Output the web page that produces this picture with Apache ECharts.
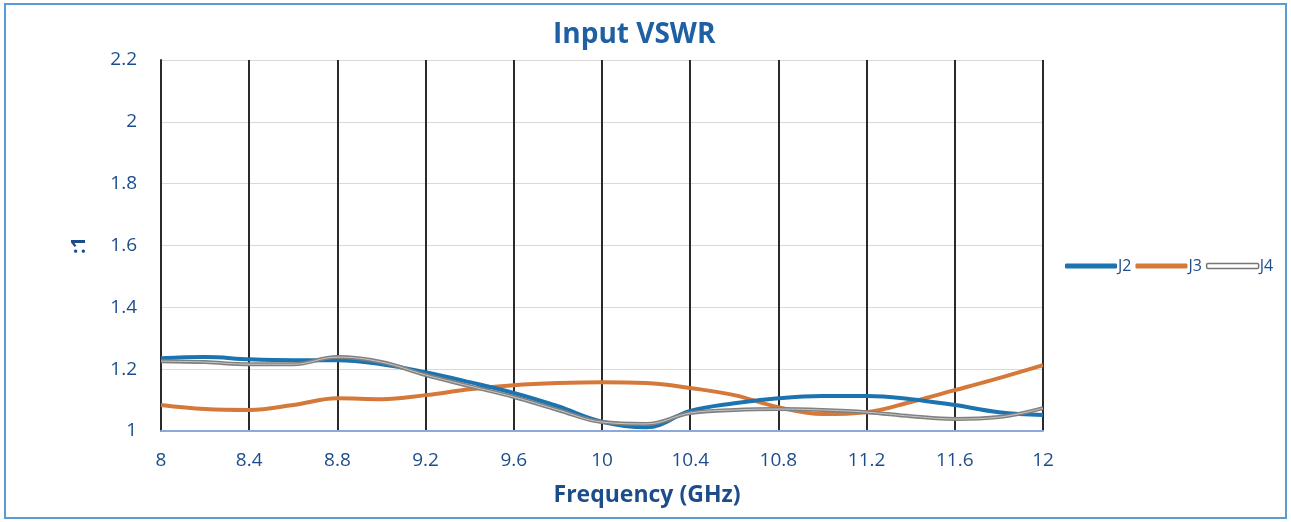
<!DOCTYPE html>
<html>
<head>
<meta charset="utf-8">
<title>Input VSWR</title>
<script src="https://cdn.jsdelivr.net/npm/echarts@6/dist/echarts.min.js"></script>
<style>
    html, body { margin: 0; padding: 0; background: #fff; }
    #vswr_chart { width: 1291px; height: 522px; }
</style>
</head>
<body>
<div id="vswr_chart"></div>
<script>

// Chart data
// ------------------------------

var freqs = [8, 8.2, 8.4, 8.6, 8.8, 9.0, 9.2, 9.4, 9.6, 9.8, 10, 10.2, 10.4, 10.6, 10.8, 11.0, 11.2, 11.4, 11.6, 11.8, 12];
var j2 = [1.235, 1.239, 1.232, 1.229, 1.229, 1.216, 1.19, 1.158, 1.123, 1.08, 1.03, 1.012, 1.065, 1.09, 1.106, 1.113, 1.113, 1.103, 1.084, 1.061, 1.052];
var j3 = [1.084, 1.071, 1.068, 1.084, 1.106, 1.103, 1.116, 1.135, 1.148, 1.155, 1.158, 1.155, 1.139, 1.116, 1.077, 1.055, 1.061, 1.094, 1.132, 1.171, 1.213];
var j4 = [1.226, 1.223, 1.216, 1.216, 1.239, 1.223, 1.181, 1.145, 1.11, 1.068, 1.029, 1.023, 1.058, 1.068, 1.071, 1.068, 1.061, 1.048, 1.039, 1.045, 1.074];
var seriesNames = ['J2', 'J3', 'J4'];


// Setup module
// ------------------------------

var EchartsVswr = function() {

    var pairs = function(ys) {
        return freqs.map(function(f, i) { return [f, ys[i]]; });
    };

    var _vswrChart = function() {
        if (typeof echarts == 'undefined') {
            console.warn('Warning - echarts.min.js is not loaded.');
            return;
        }

        var el = document.getElementById('vswr_chart');
        if (!el) return;

        var chart = echarts.init(el);
        var labelColor = '#1c4d8a';

        chart.setOption({
            animation: false,
            textStyle: {
                fontFamily: '"Open Sans", "Noto Sans", sans-serif'
            },

            // Frame around the chart
            graphic: [{
                type: 'rect',
                shape: { x: 5, y: 4, width: 1281, height: 514 },
                style: { fill: 'none', stroke: '#5b9bd5', lineWidth: 2 },
                z: 0
            }],

            title: {
                text: 'Input VSWR',
                left: 548,
                top: 16,
                textStyle: {
                    color: '#1f5fa3',
                    fontSize: 28,
                    fontWeight: 'bold'
                }
            },

            legend: {
                data: [
                    { name: 'J2' },
                    { name: 'J3' },
                    { name: 'J4', itemStyle: { color: '#fff', borderColor: '#777', borderWidth: 1.5 } }
                ],
                icon: 'roundRect',
                orient: 'horizontal',
                left: 1060,
                top: 253,
                itemWidth: 52,
                itemHeight: 5,
                itemGap: 4,
                textStyle: { color: labelColor, fontSize: 16, padding: [0, 0, 0, -4] }
            },

            grid: {
                left: 161,
                right: 248,
                top: 60,
                bottom: 91
            },

            xAxis: {
                type: 'value',
                min: 8,
                max: 12,
                interval: 0.4,
                name: 'Frequency (GHz)',
                nameLocation: 'middle',
                nameGap: 53,
                nameTextStyle: {
                    color: labelColor,
                    fontSize: 23,
                    fontWeight: 'bold',
                    padding: [0, 0, 0, 90]
                },
                axisLine: { lineStyle: { color: '#8fa8dc', width: 2 } },
                axisTick: { show: false },
                axisLabel: {
                    color: labelColor,
                    fontSize: 19,
                    margin: 20,
                    formatter: function(v) { return String(+v.toFixed(1)); }
                },
                splitLine: { show: true, lineStyle: { color: '#2a2a2a', width: 2 } }
            },

            yAxis: {
                type: 'value',
                min: 1,
                max: 2.2,
                interval: 0.2,
                name: ':1',
                nameLocation: 'middle',
                nameRotate: 90,
                nameGap: 72,
                nameTextStyle: { color: labelColor, fontSize: 20, fontWeight: 'bold' },
                axisLine: { show: true, lineStyle: { color: '#2a2a2a', width: 2 } },
                axisTick: { show: false },
                axisLabel: {
                    color: labelColor,
                    fontSize: 19,
                    margin: 24,
                    formatter: function(v) { return String(+v.toFixed(1)); }
                },
                splitLine: { lineStyle: { color: '#d9d9d9', width: 1 } }
            },

            series: [
                {
                    name: seriesNames[0],
                    type: 'line',
                    smooth: 0.4,
                    showSymbol: false,
                    data: pairs(j2),
                    itemStyle: { color: '#1b74b0' },
                    lineStyle: { color: '#1b74b0', width: 4 },
                    z: 3
                },
                {
                    name: seriesNames[1],
                    type: 'line',
                    smooth: 0.4,
                    showSymbol: false,
                    data: pairs(j3),
                    itemStyle: { color: '#d5793b' },
                    lineStyle: { color: '#d5793b', width: 4 },
                    z: 2
                },
                {
                    name: seriesNames[2],
                    type: 'line',
                    smooth: 0.4,
                    showSymbol: false,
                    data: pairs(j4),
                    itemStyle: { color: '#808080' },
                    lineStyle: { color: '#808080', width: 4 },
                    z: 4
                },
                // light core of the J4 double line
                {
                    name: 'J4 core',
                    type: 'line',
                    smooth: 0.4,
                    showSymbol: false,
                    data: pairs(j4),
                    lineStyle: { color: '#c8c8c8', width: 1 },
                    silent: true,
                    z: 5
                }
            ]
        });

        window.addEventListener('resize', function() {
            chart.resize();
        });
    };

    return {
        init: function() {
            _vswrChart();
        }
    }
}();


// Initialize module
// ------------------------------

document.addEventListener('DOMContentLoaded', function() {
    EchartsVswr.init();
});
</script>
</body>
</html>
